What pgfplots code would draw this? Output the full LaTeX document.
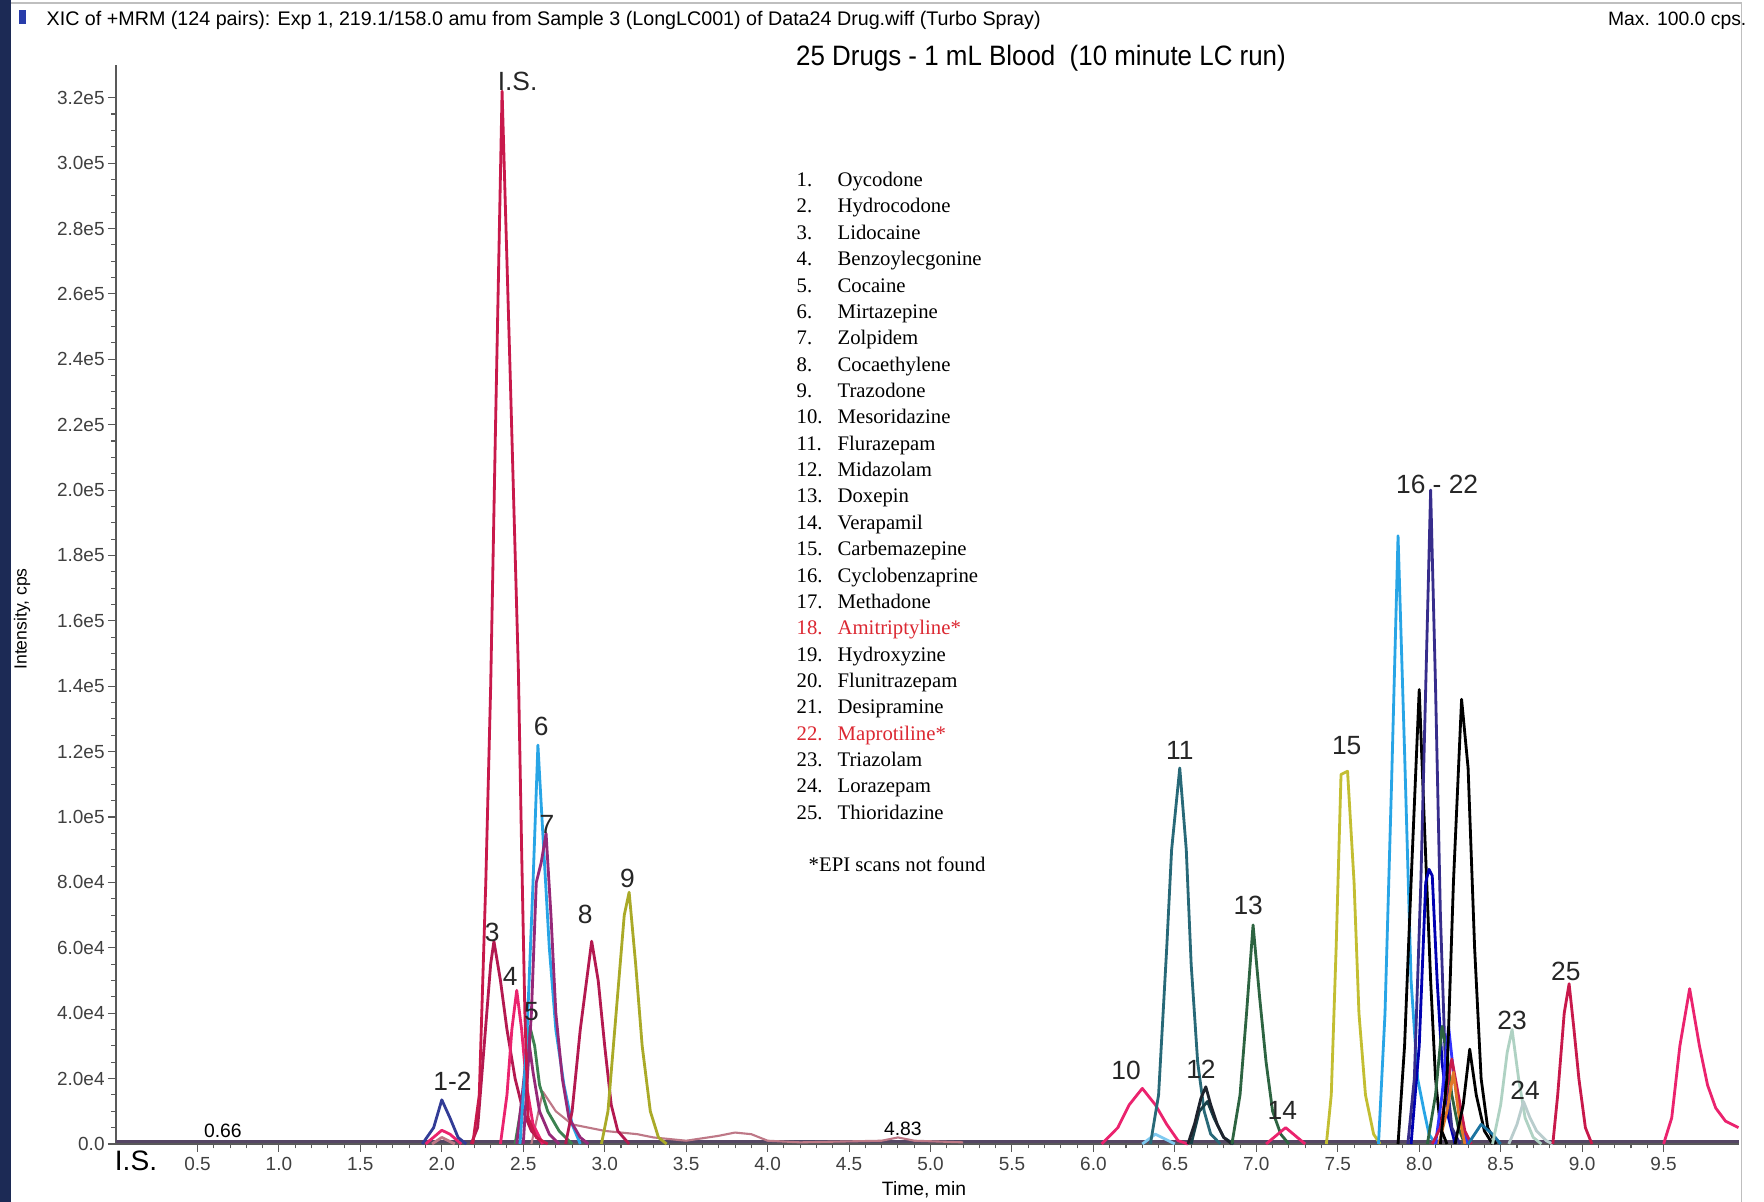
\documentclass[border=0pt]{standalone}
\usepackage{pgfplots}
\pgfplotsset{compat=1.18}
\usepackage{fontspec}
\setmainfont{Liberation Sans}
\newfontfamily\serif{Liberation Serif}
\definecolor{strip}{RGB}{28,42,85}
\definecolor{hdrblue}{RGB}{40,60,170}
\definecolor{crimIS}{RGB}{200,25,75}
\definecolor{dblue}{RGB}{50,60,150}
\definecolor{crim3}{RGB}{180,25,80}
\definecolor{pink4}{RGB}{235,35,110}
\definecolor{green5}{RGB}{60,130,80}
\definecolor{lblue}{RGB}{40,165,230}
\definecolor{purp7}{RGB}{150,40,120}
\definecolor{olive9}{RGB}{170,170,40}
\definecolor{teal11}{RGB}{40,105,120}
\definecolor{dark12}{RGB}{30,35,45}
\definecolor{green13}{RGB}{45,100,65}
\definecolor{olive15}{RGB}{195,190,50}
\definecolor{navy}{RGB}{55,45,140}
\definecolor{lgreen}{RGB}{175,210,195}
\definecolor{lgrey}{RGB}{185,205,205}
\definecolor{mauve}{RGB}{190,120,135}
\definecolor{orng}{RGB}{225,120,40}
\definecolor{legred}{RGB}{220,40,50}
\definecolor{basec}{RGB}{85,70,100}
\begin{document}
\begin{tikzpicture}
\path[use as bounding box] (-11.6mm,-5.8mm) rectangle (164.8mm,114.4mm);
\fill[white] (-11.6mm,-5.8mm) rectangle (164.8mm,114.4mm);
\fill[strip] (-11.6mm,-5.8mm) rectangle (-10.5mm,114.4mm);
\draw[gray!50] (162.55mm,-5.8mm) -- (162.55mm,114.1mm) -- (-10.5mm,114.1mm);
\begin{axis}[
  scale only axis, width=162.25mm, height=107.9mm,
  xmin=0, xmax=9.96, ymin=0, ymax=33,
  axis x line*=bottom, axis y line*=left,
  axis line style={-, gray!70!black, line width=0.4pt},
  clip=false,
  xtick={0.5,1.0,...,9.5},
  minor x tick num=4,
  ytick={0,2,...,32},
  yticklabels={0.0,2.0e4,4.0e4,6.0e4,8.0e4,1.0e5,1.2e5,1.4e5,1.6e5,1.8e5,2.0e5,2.2e5,2.4e5,2.6e5,2.8e5,3.0e5,3.2e5},
  minor y tick num=3,
  tick align=outside,
  major tick length=0.8mm, minor tick length=0.45mm,
  tick style={gray!70!black, line width=0.3pt},
  tick label style={font=\fontsize{5.4}{6}\selectfont, text=black!75},
  yticklabel style={xshift=0.9mm},
  xticklabel style={yshift=0.7mm, /pgf/number format/.cd, fixed, fixed zerofill, precision=1, assume math mode=true},
  every axis plot/.append style={line width=0.8pt, line join=round},
]
% baseline and low noise
\addplot[basec, line width=1pt] coordinates {(0,0.08) (9.96,0.08)};
\addplot[mauve, line width=0.6pt] coordinates {(2.55,0) (2.62,1.6) (2.7,1.0) (2.8,0.6) (2.9,0.5) (3.0,0.4) (3.1,0.35) (3.2,0.3) (3.3,0.2) (3.5,0.1) (3.7,0.25) (3.8,0.35) (3.9,0.3) (4.0,0.1) (4.2,0.05) (4.7,0.1) (4.8,0.2) (4.9,0.1) (5.2,0.05)};
% 1-2
\addplot[pink4] coordinates {(1.9,0) (1.96,0.25) (2.0,0.42) (2.05,0.3) (2.12,0)};
\addplot[mauve] coordinates {(1.94,0) (2.0,0.2) (2.08,0)};
\addplot[dblue] coordinates {(1.88,0) (1.95,0.5) (2.0,1.35) (2.05,0.8) (2.1,0.2) (2.15,0)};
% 3
\addplot[crim3] coordinates {(2.18,0) (2.22,0.5) (2.26,3.0) (2.3,5.5) (2.32,6.2) (2.36,5.0) (2.4,3.5) (2.45,2.0) (2.5,1.0) (2.55,0.4) (2.62,0)};
% 4
\addplot[pink4] coordinates {(2.36,0) (2.4,1.5) (2.43,3.5) (2.46,4.7) (2.49,3.5) (2.52,1.8) (2.56,0.6) (2.62,0)};
% 5
\addplot[green5] coordinates {(2.45,0) (2.5,1.5) (2.54,3.6) (2.57,3.0) (2.6,1.8) (2.65,1.0) (2.72,0.4) (2.8,0)};
\addplot[purp7] coordinates {(2.46,0) (2.5,1.8) (2.53,3.3) (2.56,2.2) (2.6,1.0) (2.66,0.3) (2.72,0)};
% 6
\addplot[lblue] coordinates {(2.48,0) (2.52,3.0) (2.56,8.0) (2.59,12.2) (2.62,9.5) (2.66,6.0) (2.7,3.5) (2.75,1.8) (2.8,0.6) (2.85,0)};
% 7
\addplot[purp7] coordinates {(2.5,0) (2.55,4.0) (2.58,8.0) (2.61,8.6) (2.64,9.5) (2.67,7.0) (2.7,4.0) (2.74,2.0) (2.78,0.8) (2.85,0.2) (2.9,0)};
% I.S.
\addplot[crimIS] coordinates {(2.19,0) (2.23,1.5) (2.27,8.0) (2.3,14.0) (2.33,22.0) (2.37,32.2) (2.42,23.5) (2.47,14.5) (2.49,9.0) (2.51,4.0) (2.53,0.8) (2.58,0.2) (2.65,0)};
% 8
\addplot[crim3] coordinates {(2.76,0) (2.8,1.0) (2.85,3.5) (2.92,6.2) (2.96,5.0) (3.0,3.0) (3.04,1.2) (3.08,0.4) (3.15,0)};
% 9
\addplot[olive9] coordinates {(2.98,0) (3.02,1.0) (3.07,4.0) (3.12,7.0) (3.15,7.7) (3.19,5.5) (3.23,3.0) (3.28,1.0) (3.33,0.2) (3.38,0)};
% 10
\addplot[pink4] coordinates {(6.05,0) (6.15,0.5) (6.22,1.2) (6.3,1.7) (6.38,1.2) (6.45,0.6) (6.52,0.1) (6.58,0)};
\addplot[lblue!60] coordinates {(6.3,0) (6.38,0.3) (6.46,0.1) (6.5,0)};
% 11
\addplot[teal11] coordinates {(6.35,0) (6.4,1.5) (6.45,6.0) (6.48,9.0) (6.53,11.5) (6.57,9.0) (6.6,5.5) (6.64,2.5) (6.68,1.0) (6.72,0.3) (6.78,0)};
% 12
\addplot[teal11!60!black] coordinates {(6.6,0) (6.65,1.0) (6.7,1.3) (6.74,0.8) (6.8,0.2) (6.86,0)};
\addplot[dark12] coordinates {(6.58,0) (6.62,0.6) (6.66,1.4) (6.69,1.75) (6.72,1.2) (6.76,0.6) (6.8,0.2) (6.85,0)};
% 13
\addplot[green13] coordinates {(6.85,0) (6.9,1.5) (6.94,4.0) (6.98,6.7) (7.02,4.5) (7.06,2.5) (7.1,1.0) (7.15,0.3) (7.2,0)};
% 14
\addplot[pink4] coordinates {(7.06,0) (7.12,0.25) (7.18,0.5) (7.24,0.25) (7.3,0)};
% 15
\addplot[olive15] coordinates {(7.43,0) (7.46,1.5) (7.49,6.0) (7.52,11.3) (7.56,11.4) (7.6,8.0) (7.63,4.0) (7.67,1.5) (7.72,0.3) (7.76,0)};
% 16-22
\addplot[lblue] coordinates {(7.75,0) (7.79,4.0) (7.83,11.0) (7.87,18.6) (7.91,12.0) (7.95,5.0) (7.99,2.0) (8.03,1.0) (8.06,0.3) (8.1,0)};
\addplot[black] coordinates {(7.87,0) (7.91,3.0) (7.95,8.0) (8.0,13.9) (8.03,10.0) (8.07,5.0) (8.1,2.0) (8.13,0.5) (8.17,0)};
\addplot[blue!70!black] coordinates {(7.95,0) (8.0,3.0) (8.04,8.0) (8.06,8.4) (8.08,8.2) (8.11,5.0) (8.14,2.5) (8.18,0.8) (8.22,0)};
\addplot[navy] coordinates {(7.93,0) (7.97,2.0) (8.01,8.0) (8.04,14.0) (8.07,20.0) (8.1,14.0) (8.13,7.0) (8.16,2.5) (8.2,0.5) (8.25,0)};
\addplot[green13] coordinates {(8.05,0) (8.1,1.5) (8.14,3.6) (8.17,2.8) (8.2,1.5) (8.24,0.5) (8.28,0)};
\addplot[blue!80] coordinates {(8.1,0) (8.14,1.5) (8.18,3.6) (8.21,2.2) (8.25,0.8) (8.3,0)};
\addplot[crimIS] coordinates {(8.08,0) (8.13,0.5) (8.2,2.6) (8.24,1.5) (8.28,0.4) (8.32,0)};
\addplot[orng] coordinates {(8.12,0) (8.17,1.0) (8.21,2.2) (8.24,1.0) (8.28,0)};
\addplot[black] coordinates {(8.13,0) (8.17,2.0) (8.21,8.0) (8.26,13.6) (8.3,11.5) (8.34,6.0) (8.38,2.0) (8.42,0.5) (8.47,0)};
\addplot[black] coordinates {(8.22,0) (8.27,1.2) (8.31,2.9) (8.35,1.5) (8.4,0.4) (8.45,0)};
\addplot[lblue!70!black] coordinates {(8.3,0) (8.38,0.6) (8.45,0.3) (8.5,0)};
% 23, 24
\addplot[lgreen] coordinates {(8.45,0) (8.5,1.2) (8.54,2.8) (8.57,3.5) (8.61,2.0) (8.65,0.8) (8.7,0.2) (8.75,0)};
\addplot[lgrey] coordinates {(8.55,0) (8.6,0.6) (8.64,1.3) (8.68,0.8) (8.72,0.4) (8.78,0.1) (8.82,0)};
% 25
\addplot[crimIS] coordinates {(8.82,0) (8.85,1.5) (8.89,4.0) (8.92,4.9) (8.95,3.5) (8.98,2.0) (9.02,0.5) (9.06,0)};
% last
\addplot[pink4] coordinates {(9.5,0) (9.55,0.8) (9.6,3.0) (9.66,4.75) (9.72,3.0) (9.77,1.8) (9.82,1.1) (9.88,0.7) (9.96,0.5)};
% peak labels
\begin{scope}[every node/.style={font=\fontsize{7.5}{8}\selectfont, inner sep=0pt, text=black!85}]
\node at (axis cs:2.465,32.5) {I.S.};
\node at (axis cs:2.065,1.93) {1-2};
\node at (axis cs:2.31,6.47) {3};
\node at (axis cs:2.42,5.13) {4};
\node at (axis cs:2.55,4.06) {5};
\node at (axis cs:2.61,12.77) {6};
\node at (axis cs:2.645,9.78) {7};
\node at (axis cs:2.88,7.02) {8};
\node at (axis cs:3.14,8.12) {9};
\node at (axis cs:6.20,2.24) {10};
\node at (axis cs:6.53,12.05) {11};
\node at (axis cs:6.66,2.27) {12};
\node at (axis cs:6.95,7.3) {13};
\node at (axis cs:7.16,1.03) {14};
\node at (axis cs:7.555,12.19) {15};
\node at (axis cs:8.11,20.17) {16 - 22};
\node at (axis cs:8.57,3.79) {23};
\node at (axis cs:8.65,1.65) {24};
\node at (axis cs:8.90,5.27) {25};
\end{scope}
\node[font=\fontsize{5.5}{6}\selectfont, inner sep=0pt] at (axis cs:0.656,0.41) {0.66};
\node[font=\fontsize{5.5}{6}\selectfont, inner sep=0pt] at (axis cs:4.83,0.45) {4.83};
\end{axis}
% outside texts
\fill[hdrblue] (-9.7mm,112.0mm) rectangle (-9.0mm,113.4mm);
\node[anchor=base west, inner sep=0pt] at (-7.0mm,111.8mm) {\resizebox{99.4mm}{!}{\fontsize{5.5}{6}\selectfont XIC of +MRM (124 pairs): Exp 1, 219.1/158.0 amu from Sample 3 (LongLC001) of Data24 Drug.wiff (Turbo Spray)}};
\node[anchor=base east, inner sep=0pt, font=\fontsize{5.5}{6}\selectfont] at (163.1mm,111.8mm) {Max. 100.0 cps.};
\node[inner sep=0pt, font=\fontsize{7.6}{8}\selectfont] at (92.5mm,108.6mm) {\scalebox{0.97}[1.05]{25 Drugs - 1 mL Blood\ \ (10 minute LC run)}};
\node[rotate=90, inner sep=0pt, font=\fontsize{5}{6}\selectfont] at (-9.4mm,52.5mm) {Intensity, cps};
\node[inner sep=0pt, font=\fontsize{5.5}{6}\selectfont] at (80.8mm,-4.6mm) {Time, min};
\node[inner sep=0pt, font=\fontsize{8}{9}\selectfont] at (2.0mm,-1.7mm) {I.S.};
\node[anchor=north west, inner sep=0pt, font=\serif\fontsize{5.9}{7.5}\selectfont] at (68.0mm,97.65mm) {%
\begin{tabular}{@{}l@{\hspace{1.5mm}}l@{}}
1. & Oycodone\\
2. & Hydrocodone\\
3. & Lidocaine\\
4. & Benzoylecgonine\\
5. & Cocaine\\
6. & Mirtazepine\\
7. & Zolpidem\\
8. & Cocaethylene\\
9. & Trazodone\\
10. & Mesoridazine\\
11. & Flurazepam\\
12. & Midazolam\\
13. & Doxepin\\
14. & Verapamil\\
15. & Carbemazepine\\
16. & Cyclobenzaprine\\
17. & Methadone\\
\textcolor{legred}{18.} & \textcolor{legred}{Amitriptyline*}\\
19. & Hydroxyzine\\
20. & Flunitrazepam\\
21. & Desipramine\\
\textcolor{legred}{22.} & \textcolor{legred}{Maprotiline*}\\
23. & Triazolam\\
24. & Lorazepam\\
25. & Thioridazine
\end{tabular}};
\node[anchor=base west, inner sep=0pt, font=\serif\fontsize{5.9}{7.5}\selectfont] at (69.2mm,27.2mm) {*EPI scans not found};
\end{tikzpicture}
\end{document}
